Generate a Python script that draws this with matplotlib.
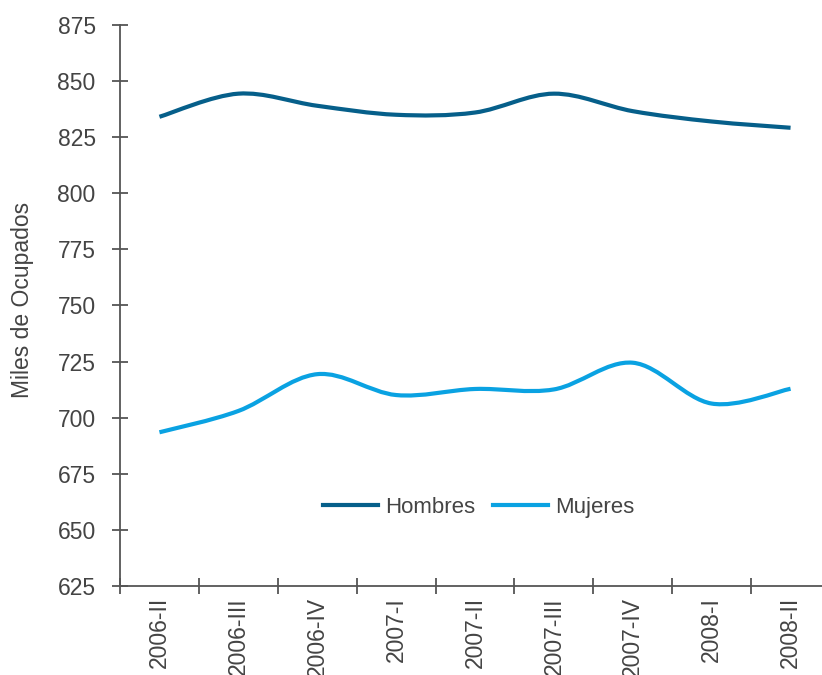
import numpy as np
import matplotlib
matplotlib.use("Agg")
import matplotlib.pyplot as plt
from matplotlib.path import Path
from matplotlib.patches import PathPatch
from matplotlib.lines import Line2D

plt.rcParams['font.family'] = ['Liberation Sans', 'DejaVu Sans']

quarters = ["2006-II", "2006-III", "2006-IV", "2007-I", "2007-II",
            "2007-III", "2007-IV", "2008-I", "2008-II"]
hombres = [834.1, 844.4, 839.0, 835.0, 836.0, 844.4, 836.6, 832.0, 829.2]
mujeres = [693.5, 703.0, 719.4, 710.1, 712.8, 712.6, 724.5, 706.3, 712.9]

col_h = "#065f8a"
col_m = "#0aa2e2"
gray = "#555555"
txt = "#444444"

fig = plt.figure(figsize=(8.22, 6.75), dpi=100)
ax = fig.add_axes([120/822, 89/675, 710/822, 561/675])


def smooth_path(xs, ys):
    P = np.column_stack([xs, ys]).astype(float)
    n = len(P)
    verts = [P[0]]
    codes = [Path.MOVETO]
    for i in range(n - 1):
        p_prev = P[i - 1] if i > 0 else P[i]
        p_next2 = P[i + 2] if i + 2 < n else P[i + 1]
        c1 = P[i] + (P[i + 1] - p_prev) / 6.0
        c2 = P[i + 1] - (p_next2 - P[i]) / 6.0
        verts += [c1, c2, P[i + 1]]
        codes += [Path.CURVE4] * 3
    return Path(verts, codes)


x = np.arange(len(quarters))
for vals, c in [(hombres, col_h), (mujeres, col_m)]:
    patch = PathPatch(smooth_path(x, vals), fill=False, edgecolor=c,
                      lw=3.0, capstyle='butt', joinstyle='round')
    ax.add_patch(patch)

ax.set_xlim(-0.5, len(quarters) - 0.5)
ax.set_ylim(625, 875)
ax.set_yticks(np.arange(625, 876, 25))

ax.set_xticks(x)
ax.set_xticklabels(quarters, rotation=90, fontsize=16.5, color=txt)
ax.set_xticks(np.arange(-0.5, len(quarters), 1.0), minor=True)
ax.tick_params(axis='x', which='major', length=0, pad=8)
ax.tick_params(axis='x', which='minor', direction='inout', length=11,
               width=1.3, color=gray)
ax.tick_params(axis='y', direction='inout', length=11, width=1.3,
               color=gray, labelsize=16.5, labelcolor=txt, pad=12)

for s in ['top', 'right']:
    ax.spines[s].set_visible(False)
for s in ['left', 'bottom']:
    ax.spines[s].set_color(gray)
    ax.spines[s].set_linewidth(1.3)

fig.text(22/822, 1 - 300/675, "Miles de Ocupados", rotation=90,
         ha='center', va='center', fontsize=16.5, color=txt)

handles = [Line2D([], [], color=col_h, lw=3.0),
           Line2D([], [], color=col_m, lw=3.0)]
ax.legend(handles, ["Hombres", "Mujeres"], loc='center',
          bbox_to_anchor=(0.505, 0.14), ncol=2, frameon=False,
          fontsize=16, handlelength=2.5, handletextpad=0.3,
          columnspacing=0.8, labelcolor=txt)

fig.savefig("out.png", dpi=100)
